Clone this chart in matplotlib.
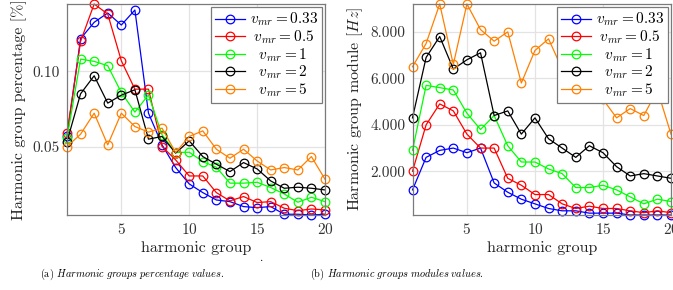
import numpy as np
import matplotlib
matplotlib.use("Agg")
import matplotlib.pyplot as plt
from matplotlib.ticker import FixedLocator, FixedFormatter

plt.rcParams['font.family'] = 'cmr10'
plt.rcParams['mathtext.fontset'] = 'cm'
plt.rcParams['axes.formatter.use_mathtext'] = True
plt.rcParams['axes.unicode_minus'] = False

groups = np.arange(1, 21)
labels = [r'$v_{mr} = 0.33$', r'$\;v_{mr} = 0.5$', r'$\enspace\,v_{mr} = 1$',
          r'$\enspace\,v_{mr} = 2$', r'$\enspace\,v_{mr} = 5$']
colors = ['#0000ff', '#ff0000', '#00ff00', '#000000', '#ff8000']

# harmonic group percentage values
pct_033 = [0.0567, 0.1218, 0.1327, 0.1389, 0.1309, 0.1409, 0.0722, 0.0511, 0.0360, 0.0251,
           0.0193, 0.0144, 0.0133, 0.0100, 0.0093, 0.0100, 0.0049, 0.0049, 0.0044, 0.0049]
pct_05 = [0.0589, 0.1200, 0.1449, 0.1382, 0.1071, 0.0882, 0.0882, 0.0500, 0.0411, 0.0304,
          0.0304, 0.0193, 0.0138, 0.0167, 0.0127, 0.0133, 0.0089, 0.0073, 0.0084, 0.0078]
pct_1 = [0.0556, 0.1082, 0.1067, 0.1038, 0.0860, 0.0729, 0.0844, 0.0578, 0.0460, 0.0462,
         0.0400, 0.0362, 0.0256, 0.0256, 0.0262, 0.0227, 0.0184, 0.0129, 0.0162, 0.0133]
pct_2 = [0.0533, 0.0851, 0.0971, 0.0789, 0.0842, 0.0878, 0.0549, 0.0567, 0.0456, 0.0538,
         0.0433, 0.0382, 0.0333, 0.0393, 0.0351, 0.0271, 0.0222, 0.0229, 0.0222, 0.0211]
pct_5 = [0.0500, 0.0582, 0.0722, 0.0511, 0.0722, 0.0633, 0.0596, 0.0622, 0.0460, 0.0567,
         0.0604, 0.0482, 0.0422, 0.0482, 0.0404, 0.0344, 0.0360, 0.0344, 0.0433, 0.0282]

# harmonic group module values [Hz]
mod_033 = [1200, 2600, 2900, 3000, 2800, 3000, 1500, 1100, 800, 600,
           400, 300, 300, 200, 200, 200, 120, 120, 120, 120]
mod_05 = [2000, 4000, 4900, 4600, 3600, 3000, 3000, 1700, 1400, 1000,
          1000, 600, 400, 500, 400, 400, 300, 220, 300, 220]
mod_1 = [2900, 5700, 5600, 5500, 4500, 3800, 4400, 3100, 2400, 2400,
         2100, 1900, 1300, 1300, 1400, 1200, 900, 600, 800, 700]
mod_2 = [4300, 6900, 7800, 6400, 6800, 7100, 4400, 4600, 3600, 4300,
         3400, 3000, 2600, 3100, 2800, 2200, 1800, 1900, 1800, 1700]
mod_5 = [6500, 7500, 9200, 6600, 9200, 8100, 7600, 8000, 5800, 7200,
         7700, 6400, 5800, 6200, 5100, 4300, 4700, 4400, 5500, 3600]

pct_series = [pct_033, pct_05, pct_1, pct_2, pct_5]
mod_series = [mod_033, mod_05, mod_1, mod_2, mod_5]

x_ticks = [5, 10, 15, 20]
pct_ticks = [0.05, 0.10]
pct_ticklabels = ['0.05', '0.10']
mod_ticks = [2000, 4000, 6000, 8000]
mod_ticklabels = ['2.000', '4.000', '6.000', '8.000']

W, H = 673, 290
fig = plt.figure(figsize=(W / 100, H / 100), dpi=100)


def make_axes(x0, x1, y0, y1):
    return fig.add_axes([x0 / W, 1 - y1 / H, (x1 - x0) / W, (y1 - y0) / H])


def style(ax, series, yticks, yticklabels, ylabel):
    for vals, c, lab in zip(series, colors, labels):
        ax.plot(groups, vals, color=c, lw=0.9, marker='o', ms=6.2, mfc='none',
                mew=0.9, label=lab, clip_on=False)
    allv = np.concatenate([np.asarray(v, dtype=float) for v in series])
    ax.set_xlim(1, 20)
    ax.set_ylim(allv.min(), allv.max())
    ax.xaxis.set_major_locator(FixedLocator(x_ticks))
    ax.yaxis.set_major_locator(FixedLocator(yticks))
    ax.yaxis.set_major_formatter(FixedFormatter(yticklabels))
    ax.grid(True, color='#e3e3e3', lw=0.9)
    ax.set_axisbelow(True)
    for s in ax.spines.values():
        s.set_color('#7a7a7a')
        s.set_linewidth(0.9)
    ax.tick_params(direction='in', length=0, labelsize=11, pad=5, colors='#333333')
    ax.set_xlabel('harmonic group', fontsize=11.5, labelpad=3, color='#222222')
    ax.set_ylabel(ylabel, fontsize=11.5, labelpad=4, color='#222222')
    leg = ax.legend(loc='upper right', fontsize=11, frameon=True, fancybox=False,
                    edgecolor='#7a7a7a', framealpha=1, borderaxespad=0.2,
                    handlelength=2.0, handletextpad=0.3, labelspacing=0.0,
                    borderpad=0.25)
    leg.get_frame().set_linewidth(0.9)
    leg.set_zorder(10)


ax1 = make_axes(67, 325, 4, 215)
style(ax1, pct_series, pct_ticks, pct_ticklabels, 'Harmonic group percentage [%]')

ax2 = make_axes(412.5, 671, 4, 215)
style(ax2, mod_series, mod_ticks, mod_ticklabels, r'Harmonic group module $[Hz]$')

fig.text(132 / W, 1 - 274 / H, r'(a) $\mathit{Harmonic\ groups\ percentage\ values.}$',
         ha='center', va='center', fontsize=7.4)
fig.text(397 / W, 1 - 274 / H, r'(b) $\mathit{Harmonic\ groups\ modules\ values.}$',
         ha='center', va='center', fontsize=7.4)
fig.text(262 / W, 1 - 258 / H, '.', ha='center', va='center', fontsize=8.5)

fig.savefig('out.png', dpi=100)
